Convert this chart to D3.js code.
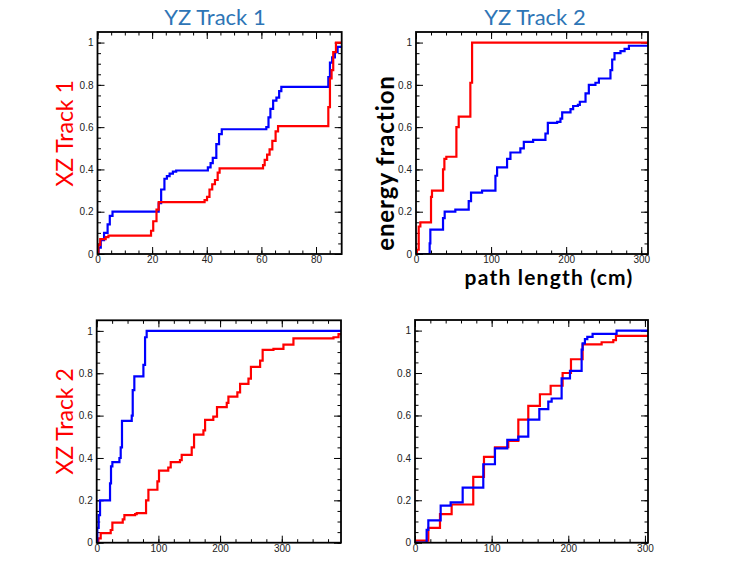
<!DOCTYPE html>
<html>
<head>
<meta charset="utf-8">
<script src="https://cdn.jsdelivr.net/npm/d3@7"></script>
<style>
  body { margin: 0; background: #fff; }
  svg { display: block; }
  .tick text { font-family: "Liberation Sans", Arial, sans-serif; font-size: 10px; fill: #222; }
  .tick line { stroke: #000; stroke-width: 1; }
</style>
</head>
<body>
<svg id="chart" width="747" height="561"></svg>
<script>
// cumulative energy fraction vs path length
const yTicks = [0, 0.2, 0.4, 0.6, 0.8, 1];

// XZ track 1 / YZ track 1
const p1RedX = [0, 0.3, 1, 3, 4, 19.6, 20.4, 21.6, 22.4, 39.2, 40.1, 41, 42, 43, 44, 44.7,
  60.6, 61.2, 62.1, 63.0, 64.0, 65.2, 66.1, 84.5, 85.1, 85.7, 86.3, 87.3];
const p1RedY = [0, 0.043, 0.07, 0.08, 0.087, 0.11, 0.155, 0.21, 0.245, 0.255, 0.27, 0.305, 0.33, 0.35, 0.385, 0.405,
  0.42, 0.445, 0.47, 0.495, 0.535, 0.58, 0.605, 0.695, 0.83, 0.87, 0.955, 1.0];
const p1BlueX = [0, 0.4, 1.2, 2.4, 3.7, 4.5, 5.5, 22.4, 23.3, 24.5, 25.4, 26.4, 27.6, 28.8,
  40.4, 41.4, 42.2, 43.5, 44.5, 45.5, 61.8, 62.6, 63.3, 64.3, 65.5, 66.5, 67.3, 84.5, 85.1, 85.9, 86.9, 87.9];
const p1BlueY = [0, 0.03, 0.065, 0.10, 0.14, 0.18, 0.20, 0.24, 0.305, 0.356, 0.368, 0.38, 0.39, 0.395,
  0.41, 0.43, 0.455, 0.52, 0.567, 0.59, 0.6, 0.646, 0.686, 0.725, 0.74, 0.77, 0.79, 0.837, 0.905, 0.93, 0.955, 0.98];

// XZ track 1 / YZ track 2
const p2RedX = [0, 1.3, 3.6, 5.8, 20, 21.3, 36, 37.8, 40.4, 53.8, 56.9, 72.4, 74.7];
const p2RedY = [0, 0.02, 0.13, 0.15, 0.27, 0.30, 0.40, 0.45, 0.46, 0.60, 0.65, 0.81, 1.0];
const p2BlueX = [0, 18.2, 19.1, 36, 38.2, 52.4, 70.2, 73.3, 88, 105.8, 108, 121.3, 125.8, 139, 143.6,
  156, 172.4, 175.6, 188, 192.4, 194.7, 205.8, 209.3, 215.6, 218.2, 225.8, 230.2, 239, 243.6, 259,
  261.3, 264.4, 272.4, 277.8, 283.6];
const p2BlueY = [0, 0.05, 0.115, 0.17, 0.20, 0.21, 0.25, 0.29, 0.30, 0.37, 0.41, 0.45, 0.48, 0.50, 0.53,
  0.54, 0.57, 0.62, 0.625, 0.64, 0.67, 0.685, 0.70, 0.705, 0.72, 0.76, 0.80, 0.81, 0.83, 0.87,
  0.92, 0.95, 0.96, 0.97, 0.985];

// XZ track 2 / YZ track 1
const p3RedX = [0, 2.7, 6.5, 22.7, 25.4, 42.2, 44.9, 62.2, 64.9, 80, 83.8, 98.4, 101, 116, 120,
  135, 137.8, 154, 157.8, 173, 175.7, 189, 195, 210.8, 213.5, 228, 232.4, 246, 250, 264.9,
  269, 286.5, 302.7, 318.9, 383.8, 392];
const p3RedY = [0, 0.02, 0.045, 0.06, 0.095, 0.11, 0.13, 0.135, 0.14, 0.2, 0.25, 0.29, 0.34, 0.355, 0.38,
  0.39, 0.415, 0.45, 0.51, 0.53, 0.58, 0.595, 0.64, 0.66, 0.69, 0.71, 0.75, 0.775, 0.83, 0.86,
  0.91, 0.915, 0.935, 0.965, 0.97, 0.985];
const p3BlueX = [0, 1, 3.2, 5.4, 21.6, 23.2, 25.4, 36.8, 38.9, 41, 56.8, 58.4, 61, 75.7, 78.4, 81];
const p3BlueY = [0, 0.07, 0.13, 0.2, 0.28, 0.36, 0.38, 0.40, 0.45, 0.575, 0.60, 0.72, 0.785, 0.84, 0.97, 1.0];

// XZ track 2 / YZ track 2
const p4RedX = [0, 0.5, 17.4, 32.6, 47.8, 76, 90, 104.3, 121.7, 134.8, 147.8, 163, 177, 192.6,
  203.5, 218.7, 243.5, 258.7, 262.2];
const p4RedY = [0, 0.01, 0.07, 0.135, 0.18, 0.31, 0.405, 0.45, 0.48, 0.58, 0.645, 0.70, 0.74, 0.80,
  0.865, 0.935, 0.945, 0.955, 0.975];
const p4BlueX = [0, 15.2, 17.4, 33.5, 46.5, 62.2, 89.1, 104.3, 120.4, 134.8, 147.8, 162.2, 173.9, 178.3,
  191.3, 202.2, 217.4, 218.7, 221.7, 224.8, 231.7, 263];
const p4BlueY = [0, 0.06, 0.105, 0.175, 0.19, 0.26, 0.37, 0.445, 0.485, 0.50, 0.58, 0.63, 0.665, 0.68,
  0.775, 0.81, 0.91, 0.94, 0.96, 0.97, 0.985, 1.0];

const colTitles = ['YZ Track 1', 'YZ Track 2'];
const rowTitles = ['XZ Track 1', 'XZ Track 2'];

const panels = [
  {box: [97.5, 32, 341.7, 254], xMax: 89.4, xMajor: [0, 20, 40, 60, 80], xMinor: 5,
   red: [p1RedX, p1RedY], blue: [p1BlueX, p1BlueY]},
  {box: [416, 32, 648, 254], xMax: 309, xMajor: [0, 100, 200, 300], xMinor: 20,
   red: [p2RedX, p2RedY], blue: [p2BlueX, p2BlueY]},
  {box: [96.7, 320.3, 341, 542.7], xMax: 396, xMajor: [0, 100, 200, 300], xMinor: 25,
   red: [p3RedX, p3RedY], blue: [p3BlueX, p3BlueY]},
  {box: [415, 320, 648, 542.7], xMax: 304, xMajor: [0, 100, 200, 300], xMinor: 20,
   red: [p4RedX, p4RedY], blue: [p4BlueX, p4BlueY]}
];

const svg = d3.select('#chart');
const fmt = d => String(+d.toFixed(2));

panels.forEach(function(p, i) {
  const [x0, y0, x1, y1] = p.box;
  // y=1 sits a bit below the top of the frame, as ROOT does
  const x = d3.scaleLinear().domain([0, p.xMax]).range([x0, x1]),
        y = d3.scaleLinear().domain([0, 1.05]).range([y1, y0]);
  const g = svg.append('g');

  const minX = d3.range(0, p.xMax, p.xMinor),
        minY = d3.range(0, 1.05, 0.05);

  // minor ticks, all four sides
  g.append('g').attr('transform', `translate(0,${y1})`)
    .call(d3.axisBottom(x).tickValues(minX).tickSize(-3.5).tickFormat(''));
  g.append('g').attr('transform', `translate(0,${y0})`)
    .call(d3.axisTop(x).tickValues(minX).tickSize(-3.5).tickFormat(''));
  g.append('g').attr('transform', `translate(${x0},0)`)
    .call(d3.axisLeft(y).tickValues(minY).tickSize(-3.5).tickFormat(''));
  g.append('g').attr('transform', `translate(${x1},0)`)
    .call(d3.axisRight(y).tickValues(minY).tickSize(-3.5).tickFormat(''));

  // major ticks with labels
  g.append('g').attr('transform', `translate(0,${y1})`)
    .call(d3.axisBottom(x).tickValues(p.xMajor).tickSize(-7).tickPadding(2).tickFormat(fmt));
  g.append('g').attr('transform', `translate(0,${y0})`)
    .call(d3.axisTop(x).tickValues(p.xMajor).tickSize(-7).tickFormat(''));
  g.append('g').attr('transform', `translate(${x0},0)`)
    .call(d3.axisLeft(y).tickValues(yTicks).tickSize(-7).tickPadding(4).tickFormat(fmt));
  g.append('g').attr('transform', `translate(${x1},0)`)
    .call(d3.axisRight(y).tickValues(yTicks).tickSize(-7).tickFormat(''));

  g.selectAll('.domain').remove();

  const clipId = 'clip' + i;
  svg.append('clipPath').attr('id', clipId)
    .append('rect').attr('x', x0).attr('y', y0 - 2).attr('width', x1 - x0).attr('height', y1 - y0 + 2);

  const line = d3.line().x(d => x(d[0])).y(d => y(d[1])).curve(d3.curveStepAfter);
  [['#0000ff', p.blue], ['#ff0000', p.red]].forEach(function([col, s]) {
    const pts = s[0].map((v, k) => [v, s[1][k]]);
    pts.push([p.xMax, s[1][s[1].length - 1]]);
    g.append('path').datum(pts)
      .attr('clip-path', `url(#${clipId})`)
      .attr('d', line)
      .attr('fill', 'none')
      .attr('stroke', col)
      .attr('stroke-width', 2.2);
  });
  // red drawn after blue in panels 1,2; blue on top in the lower row
  if (i >= 2) g.selectAll('path[stroke="#0000ff"]').raise();

  g.append('rect')
    .attr('x', x0).attr('y', y0)
    .attr('width', x1 - x0).attr('height', y1 - y0)
    .attr('fill', 'none').attr('stroke', '#000').attr('stroke-width', 1.8);
});

const titleFont = 'Lato, "Open Sans", sans-serif';

svg.selectAll('.coltitle').data(colTitles).enter().append('text')
  .attr('class', 'coltitle')
  .attr('x', (d, i) => [215, 535][i])
  .attr('y', 25)
  .attr('text-anchor', 'middle')
  .style('font-family', titleFont).style('font-size', '22px')
  .attr('fill', '#2E75B6')
  .text(d => d);

svg.selectAll('.rowtitle').data(rowTitles).enter().append('text')
  .attr('class', 'rowtitle')
  .attr('transform', (d, i) => `translate(73,${[133.5, 421.5][i]}) rotate(-90)`)
  .attr('text-anchor', 'middle')
  .style('font-family', titleFont).style('font-size', '23px')
  .attr('fill', '#ff0000')
  .text(d => d);

svg.append('text')
  .attr('transform', 'translate(394,163) rotate(-90)')
  .attr('text-anchor', 'middle')
  .style('font-family', titleFont).style('font-size', '24px').style('font-weight', 'bold')
  .style('letter-spacing', '0.9px')
  .attr('fill', '#000')
  .text('energy fraction');

svg.append('text')
  .attr('x', 549).attr('y', 285)
  .attr('text-anchor', 'middle')
  .style('font-family', titleFont).style('font-size', '21px').style('font-weight', 'bold')
  .style('letter-spacing', '1.2px')
  .attr('fill', '#000')
  .text('path length (cm)');
</script>
</body>
</html>
